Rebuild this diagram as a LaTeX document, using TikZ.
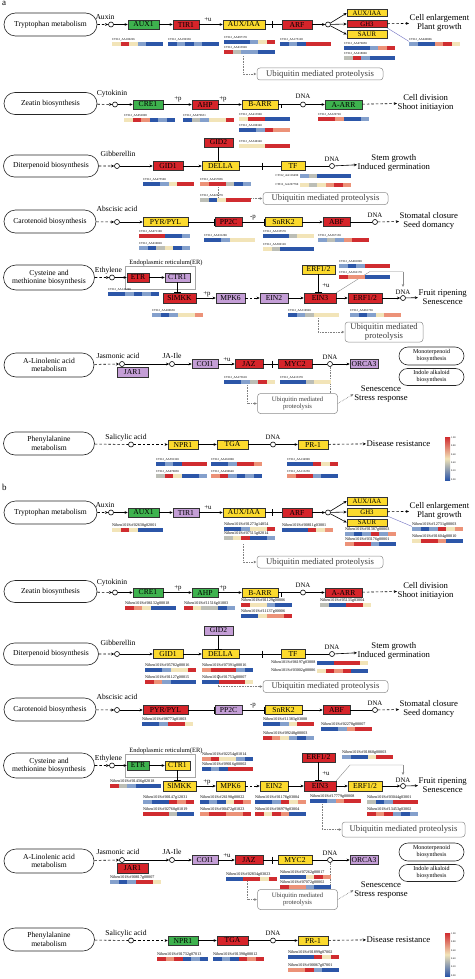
\documentclass[tikz,border=0pt]{standalone}
\usepackage{fontspec}
\setmainfont{Liberation Serif}
\usetikzlibrary{arrows.meta,shapes.misc,calc}
\definecolor{cG}{RGB}{62,178,78}
\definecolor{cR}{RGB}{214,36,42}
\definecolor{cY}{RGB}{252,218,45}
\definecolor{cP}{RGB}{196,158,214}
\definecolor{hmR}{RGB}{208,44,48}
\definecolor{hmO}{RGB}{236,146,120}
\definecolor{hmT}{RGB}{242,228,184}
\definecolor{hmG}{RGB}{188,190,182}
\definecolor{hmL}{RGB}{132,160,204}
\definecolor{hmB}{RGB}{44,86,168}
\tikzset{
  gene/.style={draw=black!80, line width=0.5pt, minimum height=9pt, inner sep=0pt, font=\fontsize{7.6}{8}\selectfont},
  sgene/.style={gene, minimum width=40pt, minimum height=7.5pt, font=\fontsize{6.8}{7}\selectfont},
  pill/.style={rounded rectangle, draw=black!85, line width=0.6pt, inner sep=1pt, align=center, font=\fontsize{7.6}{8.6}\selectfont},
  cir/.style={circle, draw, line width=0.6pt, minimum size=5pt, inner sep=0pt, fill=white},
  arr/.style={-{Stealth[length=3.2pt,width=2.8pt]}, line width=0.6pt},
  darr/.style={arr, dash pattern=on 2.5pt off 2pt},
  dln/.style={line width=0.6pt, dash pattern=on 2.5pt off 2pt},
  inh/.style={-{Bar[width=7pt]}, line width=0.6pt},
  ln/.style={line width=0.6pt},
  lbl/.style={font=\fontsize{7.6}{8}\selectfont, inner sep=0.5pt},
  sml/.style={font=\fontsize{6.8}{7}\selectfont, inner sep=0.5pt},
  outc/.style={font=\fontsize{8.7}{9.6}\selectfont, align=center, inner sep=0.5pt},
  ubq/.style={draw=black!45, line width=0.5pt, rounded corners=3pt, text=black!75, align=center, inner sep=1pt, font=\fontsize{8.7}{9.6}\selectfont},
  wav/.style={black!50, densely dotted, line width=0.6pt},
  warr/.style={wav, -{Latex[open,length=3pt,width=3pt]}},
  thinl/.style={black!45, line width=0.4pt},
  thinb/.style={blue!40!gray!80, line width=0.4pt},
  hid/.style={font=\fontsize{3}{3.2}\selectfont, inner sep=0pt, anchor=south west},
  hidb/.style={font=\fontsize{4.1}{4.3}\selectfont, inner sep=0pt, anchor=south west},
}
% heat strip: name, x, y(top), id, colours
\newcommand\hm[5]{%
  \node[hid] (#1) at (#2,#3-0.6) {#4};
  \foreach \cc [count=\ii from 0] in {#5}{\fill[fill=hm\cc] (#2+\ii*8.5,#3) rectangle ++(8.5,3.6);}
}
\newcommand\hml[5]{%
  \node[hid, anchor=east] (#1) at (#2-1.5,#3+1.8) {#4};
  \foreach \cc [count=\ii from 0] in {#5}{\fill[fill=hm\cc] (#2+\ii*8.5,#3) rectangle ++(8.5,3.6);}
}
\newcommand\RowOne[2]{%
  \node[pill, minimum width=95pt, minimum height=23pt] (p) at (50.5,24.5) {Tryptophan metabolism};
  \node[lbl, anchor=base] (s) at (105,19.5) {Auxin};
  \node[cir] (c1) at (111,24.5) {};
  \node[gene, fill=cG, minimum width=31pt] (g1) at (143.5,24.5) {AUX1};
  \node[gene, fill=#1, minimum width=26pt] (g2) at (186,24.5) {TIR1};
  \node[sml, anchor=base] (m1) at (208,21.5) {+u};
  \node[gene, fill=cY, minimum width=42pt] (g3) at (244,24.5) {AUX/IAA};
  \coordinate (b1) at (273,24.5);
  \node[gene, fill=cR, minimum width=30pt] (g4) at (297,24.5) {ARF};
  \node[cir] (c2) at (328,24.5) {};
  \node[sgene, fill=cY] (g5) at (367,13) {AUX/IAA};
  \node[sgene, fill=#2] (g6) at (367,24) {GH3};
  \node[sgene, fill=cY] (g7) at (367,34.5) {SAUR};
  \node[outc, anchor=west] (o) at (409,23) {Cell enlargement\\Plant growth};
  \node[ubq, minimum width=126pt, minimum height=12pt] (u) at (320,74) {Ubiquitin mediated proteolysis};
  \coordinate (w1) at (243,56);
  \draw[darr] (p) -- (c1); \draw[arr] (c1) -- (g1); \draw[arr] (g1) -- (g2); \draw[arr] (g2) -- (g3);
  \draw[inh] (g3) -- (b1); \draw[ln] (b1) -- (g4); \draw[arr] (g4) -- (c2);
  \draw[arr] (c2) -- (g5.west); \draw[arr] (c2) -- (g6.west); \draw[arr] (c2) -- (g7.west);
  \draw[darr] (g6) -- (o);
  \draw[warr] (w1) |- (u.west);
}
\newcommand\RowTwo[2]{%
  \node[pill, minimum width=95pt, minimum height=22pt] (p) at (50.5,103.5) {Zeatin biosynthesis};
  \node[lbl, anchor=base] (s) at (112,96) {Cytokinin};
  \node[cir] (c1) at (115,104.5) {};
  \node[gene, fill=cG, minimum width=30pt] (g1) at (148,104.5) {CRE1};
  \node[sml, anchor=base] (m1) at (178,101) {+p};
  \node[gene, fill=#1, minimum width=26pt] (g2) at (205,104.5) {AHP};
  \node[sml, anchor=base] (m2) at (223,101) {+p};
  \node[gene, fill=cY, minimum width=36pt] (g3) at (260,104.5) {B-ARR};
  \node[cir] (c2) at (303,104.5) {};
  \node[sml, anchor=base] (d) at (303,99) {DNA};
  \node[gene, fill=#2, minimum width=37pt] (g4) at (343.5,104.5) {A-ARR};
  \node[outc, anchor=west] (o) at (397,103) {Cell division\\Shoot initiayion};
  \coordinate (t1) at (281,104.5); \coordinate (t2) at (281,108.5);
  \draw[darr] (p) -- (c1); \draw[arr] (c1) -- (g1); \draw[arr] (g1) -- (g2); \draw[arr] (g2) -- (g3);
  \draw[ln] (g3) -- (c2); \draw[ln] (t1) -- (t2); \draw[arr] (c2) -- (g4); \draw[darr] (g4) -- (o);
}
\newcommand\RowThree[2]{%
  \node[pill, minimum width=97pt, minimum height=22pt] (p) at (51,166) {Diterpenoid biosynthesis};
  \node[lbl, anchor=base] (s) at (118,157) {Gibberellin};
  \node[cir] (c1) at (117,166) {};
  \node[gene, fill=#2, minimum width=30pt] (g1) at (168,166) {GID1};
  \node[gene, fill=cY, minimum width=37pt] (g2) at (220.5,166) {DELLA};
  \node[gene, fill=#1, minimum width=29pt] (g0) at (218.5,142.5) {GID2};
  \coordinate (b1) at (263,166);
  \node[gene, fill=cY, minimum width=24pt] (g3) at (293,166) {TF};
  \node[cir] (c2) at (332,166) {};
  \node[sml, anchor=base] (d) at (332,161) {DNA};
  \node[outc, anchor=west] (o) at (357,163) {Stem growth\\Induced germination};
  \node[ubq, minimum width=125pt, minimum height=12pt] (u) at (325.5,198.5) {Ubiquitin mediated proteolysis};
  \coordinate (w1) at (218,187);
  \draw[darr] (p) -- (c1); \draw[arr] (c1) -- (g1); \draw[arr] (g1) -- (g2);
  \draw[inh] (g0.south) -- (g0.south |- g2.north);
  \draw[inh] (g2) -- (b1); \draw[ln] (b1) -- (g3); \draw[ln] (g3) -- (c2); \draw[arr] (c2) -- (o);
  \draw[warr] (w1) |- (u.west);
}
\newcommand\RowFour[2]{%
  \node[pill, minimum width=94pt, minimum height=23pt] (p) at (50,221.5) {Carotenoid biosynthesis};
  \node[lbl, anchor=base] (s) at (117,211.5) {Abscisic acid};
  \node[cir] (c1) at (117,222) {};
  \node[gene, fill=#1, minimum width=45pt] (g1) at (165.5,222) {PYR/PYL};
  \node[gene, fill=#2, minimum width=27pt] (g2) at (228.5,222) {PP2C};
  \node[sml, anchor=base] (m1) at (253,218) {-p};
  \node[gene, fill=cY, minimum width=37pt] (g3) at (283.5,222) {SnRK2};
  \node[gene, fill=cR, minimum width=27pt] (g4) at (336.5,222) {ABF};
  \node[cir] (c2) at (375,222) {};
  \node[sml, anchor=base] (d) at (375,217) {DNA};
  \node[outc, anchor=west] (o) at (399,221) {Stomatal closure\\Seed domancy};
  \draw[darr] (p) -- (c1); \draw[arr] (c1) -- (g1); \draw[inh] (g1) -- (g2); \draw[inh] (g2) -- (g3);
  \draw[arr] (g3) -- (g4); \draw[ln] (g4) -- (c2); \draw[darr] (c2) -- (o);
}
\newcommand\RowFive[9]{%
  \node[pill, minimum width=93pt, minimum height=25pt] (p) at (49,277.5) {Cysteine and\\methionine biosynthesis};
  \node[draw=black!35, line width=0.4pt, minimum width=70pt, minimum height=23pt, inner sep=0pt] (er) at (160,277.5) {};
  \node[sml, anchor=base, font=\fontsize{6.5}{7}\selectfont] (erl) at (166,264) {Endoplasmic reticulum(ER)};
  \node[lbl, anchor=base] (s) at (108.5,272) {Ethylene};
  \node[cir] (c1) at (112,277.5) {};
  \node[gene, fill=#1, minimum width=22pt] (g1) at (138,277.5) {ETR};
  \node[gene, fill=#2, minimum width=25pt] (g2) at (177.5,277.5) {CTR1};
  \node[gene, fill=#3, minimum width=33pt, minimum height=10pt] (g3) at (179.5,298) {SlMKK};
  \node[sml, anchor=base] (m1) at (207,295) {+p};
  \node[gene, fill=#4, minimum width=29pt, minimum height=10pt] (g4) at (230.5,298) {MPK6};
  \node[gene, fill=#5, minimum width=28pt, minimum height=10pt] (g5) at (274,298) {EIN2};
  \node[gene, fill=cR, minimum width=32pt, minimum height=10pt] (g6) at (320,298) {EIN3};
  \node[gene, fill=#6, minimum width=33pt] (g7) at (318.5,269.5) {ERF1/2};
  \node[sml, anchor=base] (m2) at (326,287.5) {+u};
  \node[gene, fill=#7, minimum width=34pt, minimum height=10pt] (g8) at (365,298) {ERF1/2};
  \node[cir] (c2) at (403,298) {};
  \node[sml, anchor=base] (d) at (403,294.3) {DNA};
  \node[outc, anchor=west] (o) at (418,297) {Fruit ripening\\Senescence};
  \coordinate (k1) at (#9,#8); \coordinate (k2) at (403,#8); \coordinate (k3) at (403,287);
  \draw[darr] (p) -- (c1); \draw[arr] (c1) -- (g1); \draw[arr] (g1) -- (g2);
  \draw[inh] (g2.south) -- (g2.south |- g3.north);
  \draw[arr] (g3) -- (g4); \draw[darr] (g4) -- (g5); \draw[arr] (g5) -- (g6);
  \draw[inh] (g7.south) -- (g7.south |- g6.north);
  \draw[arr] (g6) -- (g8); \draw[arr] (g8) -- (c2); \draw[arr] (c2) -- (o);
  \draw[thinl] (g6.north east) -- (k1) -- (k2);
  \draw[thinl, -{Stealth[length=3pt,width=2.6pt]}] (k2) -- (k3);
}
\newcommand\RowSix[2]{%
  \node[pill, minimum width=92pt, minimum height=24pt] (p) at (49,365) {A-Linolenic acid\\metabolism};
  \node[lbl, anchor=base] (s) at (118,358.5) {Jasmonic acid};
  \node[cir] (c1) at (122,364) {};
  \node[gene, fill=#1, minimum width=31pt, minimum height=10pt] (g0) at (132.5,372.5) {JAR1};
  \node[lbl, anchor=base] (s2) at (172,358.5) {JA-Ile};
  \node[cir] (c2) at (172,364) {};
  \node[gene, fill=cP, minimum width=26pt] (g1) at (205,364) {COI1};
  \node[sml, anchor=base] (m1) at (227,361) {+u};
  \node[gene, fill=cR, minimum width=28pt] (g2) at (249,364) {JAZ};
  \coordinate (b1) at (273,364);
  \node[gene, fill=#2, minimum width=34pt] (g3) at (295,364) {MYC2};
  \node[cir] (c3) at (330,364) {};
  \node[sml, anchor=base] (d) at (330,359) {DNA};
  \node[gene, fill=cP, minimum width=28pt] (g4) at (364,364) {ORCA3};
  \node[pill, minimum width=67pt, minimum height=18pt, font=\fontsize{6}{7}\selectfont] (q1) at (431.5,356) {Monoterpenoid\\biosynthesis};
  \node[pill, minimum width=67pt, minimum height=17pt, font=\fontsize{6}{7}\selectfont] (q2) at (431.5,377) {Indole alkaloid\\biosynthesis};
  \node[ubq, minimum width=80pt, minimum height=20pt, font=\fontsize{6.6}{7.6}\selectfont] (u) at (297.5,403.5) {Ubiquitin mediated\\proteolysis};
  \node[outc] (o) at (381,394) {Senescence\\Stress response};
  \coordinate (w1) at (247,385);
  \draw[darr] (p) -- (c1); \draw[arr] (c1) -- (c2); \draw[arr] (c2) -- (g1); \draw[arr] (g1) -- (g2);
  \draw[inh] (g2) -- (b1); \draw[ln] (b1) -- (g3); \draw[ln] (g3) -- (c3); \draw[arr] (c3) -- (g4);
  \draw[warr] (w1) |- (u.west);
  \draw[wav] (c3) -- (c3 |- u.north);
  \draw[warr] (u.east) -- (o.west);
}
\newcommand\RowSeven[2]{%
  \node[pill, minimum width=93pt, minimum height=23pt] (p) at (49,443.5) {Phenylalanine\\metabolism};
  \node[lbl, anchor=base] (s) at (126,439.5) {Salicylic acid};
  \node[cir] (c1) at (131,444.5) {};
  \node[gene, fill=#1, minimum width=30pt] (g1) at (183,444.5) {NPR1};
  \node[gene, fill=#2, minimum width=31pt] (g2) at (232.5,444.5) {TGA};
  \node[cir] (c2) at (273,444.5) {};
  \node[sml, anchor=base] (d) at (273,439.5) {DNA};
  \node[gene, fill=cY, minimum width=30pt] (g3) at (313,444.5) {PR-1};
  \node[outc, anchor=west] (o) at (366,443.5) {Disease resistance};
  \shade[top color=hmR, bottom color=hmB, middle color=hmT] (445,437) rectangle (450,480);
  \foreach \cbv [count=\cbi from 0] in {1.00,0.80,0.60,0.40,0.20,0.00}
    \node[font=\fontsize{2.5}{3}\selectfont, anchor=west, inner sep=0pt] (cb\cbi) at (451,437.7+\cbi*8.3) {\cbv};
  \draw[dln] (p) -- (c1); \draw[darr] (c1) -- (g1); \draw[arr] (g1) -- (g2); \draw[ln] (g2) -- (c2);
  \draw[arr] (c2) -- (g3); \draw[darr] (g3) -- (o);
}
\begin{document}
\begin{tikzpicture}[x=1pt, y=-1pt]
\path[use as bounding box, fill=white] (0,0) rectangle (474,979);
\node[font=\fontsize{9}{10}\selectfont, anchor=north west, inner sep=0pt] (la) at (2,1) {a};
\node[font=\fontsize{9}{10}\selectfont, anchor=north west, inner sep=0pt] (lb) at (2,484) {b};
% ================= panel a =================
\begin{scope}[name prefix=a1-]
\RowOne{cR}{cR}
\hm{h1}{112}{42}{CTI12\_AA109226}{T,R,T,L,B,B}
\hm{h2}{168}{42}{CTI12\_AA199330}{B,L,B,L,B,B}
\hm{h3}{224}{40}{CTI12\_AA097170}{B,B,B,L,T,R}
\hm{h4}{224}{50}{CTI12\_AA013920}{R,G,L,L,B,B}
\hm{h5}{280}{42}{CTI12\_AA175128}{B,L,B,R,R,R}
\hm{h6}{344}{46}{CTI12\_AA076050}{B,B,B,L,O,R}
\hm{h7}{344}{56}{CTI12\_AA018060}{G,R,L,B,B,B}
\hm{h8}{409}{42}{CTI12\_AA049066}{L,B,B,O,R,T}
\draw[thinb] (g6.south east) -- (h8.south west);
\end{scope}
\begin{scope}[name prefix=a2-]
\RowTwo{cR}{cG}
\hm{h1}{124}{118}{CTI12\_AA052098}{T,R,O,B,L,B}
\hm{h2}{183}{118}{CTI12\_AA079631}{B,G,L,T,T,R}
\hm{h3}{239}{117}{CTI12\_AA413960}{T,R,R,B,B,B}
\hm{h4}{239}{128}{CTI12\_AA100340}{B,B,L,R,O,O}
\hm{h5}{318}{117}{CTI12\_AA329720}{R,R,O,B,B,L}
\end{scope}
\begin{scope}[name prefix=a3-]
\RowThree{cR}{cR}
\hm{h0}{239}{144}{CTI12\_AA540340}{T,T,T,R,R,R}
\hm{h1}{143}{182}{CTI12\_AA475560}{B,B,L,T,R,R}
\hm{h2}{200}{182}{CTI12\_AA457836}{O,R,R,G,B,L}
\hm{h3}{200}{198}{CTI12\_AA026270}{G,B,T,R,R,R}
\hml{h4}{300}{174}{CTI12\_AA116490}{L,G,B,B,B,B}
\hml{h5}{300}{183}{CTI12\_AA267760}{T,G,T,O,R,O}
\end{scope}
\begin{scope}[name prefix=a4-]
\RowFour{cY}{cR}
\hm{h1}{139}{234}{CTI12\_AA071100}{R,R,R,B,B,L}
\hm{h2}{139}{246}{CTI12\_AA010820}{L,B,G,T,B,L}
\hm{h3}{204}{238}{CTI12\_AA631200}{B,B,L,T,T,T}
\hm{h4}{263}{234}{CTI12\_AA335570}{B,B,B,G,T,T}
\hm{h5}{263}{247}{CTI12\_AA509120}{T,G,B,B,B,B}
\hm{h6}{318}{238}{CTI12\_AA367130}{L,G,L,O,R,R}
\end{scope}
\begin{scope}[name prefix=a5-]
\RowFive{cR}{cP}{cR}{cP}{cP}{cY}{cR}{271.5}{370}
\hm{h1}{108}{292}{CTI12\_AA143290}{B,B,L,B,L,B}
\hm{h2}{339}{264}{CTI12\_AA001890}{L,B,L,R,R,R}
\hm{h3}{339}{275}{CTI12\_AA362170}{R,O,O,B,B,B}
\hm{h4}{152}{313}{CTI12\_AA400650}{L,B,L,T,T,O}
\hm{h5}{288}{313}{CTI12\_AA310920}{B,L,G,T,T,T}
\hm{h6}{350}{313}{CTI12\_AA061730}{L,B,L,T,O,O}
\node[ubq, minimum width=78pt, minimum height=20pt] (u) at (384,332) {Ubiquitin mediated\\proteolysis};
\coordinate (w1) at (318,318);
\draw[warr] (w1) |- (u.west);
\end{scope}
\begin{scope}[name prefix=a6-]
\RowSix{cP}{cR}
\hm{h1}{224}{380}{CTI12\_AA273610}{B,B,L,G,R,T}
\hm{h2}{280}{380}{CTI12\_AA413370}{B,B,B,G,T,T}
\end{scope}
\begin{scope}[name prefix=a7-]
\RowSeven{cY}{cY}
\hm{h1}{156}{462}{CTI12\_AA591320}{B,L,B,R,R,R}
\hm{h2}{156}{474}{CTI12\_AA076830}{G,R,T,B,B,L}
\hm{h3}{211}{462}{CTI12\_AA261860}{B,B,L,R,R,O}
\hm{h4}{211}{474}{CTI12\_AA490640}{O,R,L,B,L,B}
\hm{h5}{287}{462}{CTI12\_AA134990}{B,B,B,R,T,R}
\hm{h6}{287}{474}{CTI12\_AA113250}{O,R,R,L,B,B}
\end{scope}
% ================= panel b =================
\begin{scope}[name prefix=b1-, shift={(0,488)}, hid/.style={hidb}]
\RowOne{cP}{cY}
\hm{h1}{112}{40}{Niben101Scf02638g02001}{T,R,T,B,B,B}
\hm{h3}{224}{39}{Niben101Scf01273g14054}{B,B,L,T,T,R}
\hm{h4}{224}{48}{Niben101Scf07515g02014}{G,T,R,B,B,L}
\hm{h5}{282}{40}{Niben101Scf00811g03001}{B,B,B,R,T,O}
\hm{h6}{345}{44}{Niben101Scf01387g00003}{L,B,L,R,L,O}
\hm{h7}{345}{54}{Niben101Scf03176g00001}{O,R,R,L,B,B}
\hm{h8}{412}{39}{Niben101Scf12731g00003}{L,B,L,R,T,O}
\hm{h9}{412}{51}{Niben101Scf01604g00010}{T,R,R,O,B,B}
\draw[thinb] (g6.south east) -- (h8.south west);
\end{scope}
\begin{scope}[name prefix=b2-, shift={(0,488)}, hid/.style={hidb}]
\RowTwo{cG}{cR}
\hm{h1}{125}{118}{Niben101Scf06132g00018}{R,O,T,B,B,B}
\hm{h2}{184}{118}{Niben101Scf11516g01003}{R,T,G,G,B,L}
\hm{h3}{241}{115}{Niben101Scf01129g00006}{R,T,T,L,B,B}
\hm{h4}{241}{126}{Niben101Scf11137g00006}{B,B,T,O,O,R}
\hm{h5}{320}{115}{Niben101Scf05135g03004}{G,B,B,R,R,T}
\end{scope}
\begin{scope}[name prefix=b3-, shift={(0,488)}, hid/.style={hidb}]
\RowThree{cP}{cY}
\hm{h1}{145}{180}{Niben101Scf05782g00016}{B,B,L,T,T,R}
\hm{h2}{145}{192}{Niben101Scf01127g00015}{R,O,L,B,B,B}
\hm{h3}{202}{180}{Niben101Scf07391g00016}{O,R,R,R,L,B}
\hm{h4}{202}{192}{Niben101Scf01753g00007}{B,B,R,R,R,T}
\hml{h5}{317}{173}{Niben101Scf06197g03008}{B,B,R,R,R,T}
\hml{h6}{317}{181}{Niben101Scf03002g00006}{T,R,O,R,B,B}
\end{scope}
\begin{scope}[name prefix=b4-, shift={(0,488)}, hid/.style={hidb}]
\RowFour{cR}{cP}
\hm{h1}{142}{234}{Niben101Scf08773g01003}{B,B,L,R,R,T}
\hm{h2}{263}{234}{Niben101Scf11383g03008}{B,B,L,T,R,R}
\hm{h3}{263}{248}{Niben101Scf09248g00003}{R,O,T,L,B,L}
\hm{h4}{321}{239}{Niben101Scf02278g00007}{B,B,L,O,R,R}
\end{scope}
\begin{scope}[name prefix=b5-, shift={(0,488)}, hid/.style={hidb}]
\RowFive{cG}{cY}{cY}{cY}{cY}{cR}{cY}{277}{350}
\hm{h1}{110}{296}{Niben101Scf01436g02018}{R,G,L,B,B,B}
\hm{h2}{202}{269}{Niben101Scf02254g01014}{O,R,T,T,L,B}
\hm{h3}{202}{279}{Niben101Scf09016g00002}{B,L,B,R,R,R}
\hm{h4}{342}{267}{Niben101Scf01860g00003}{L,B,B,T,R,R}
\hm{h5}{143}{312}{Niben101Scf00147g12031}{L,B,B,R,O,R}
\hm{h6}{143}{324}{Niben101Scf02760g01019}{R,R,R,G,B,B}
\hm{h7}{200}{312}{Niben101Scf26198g00022}{B,L,B,T,R,O}
\hm{h8}{200}{324}{Niben101Scf00472g01023}{O,R,R,O,O,R}
\hm{h9}{255}{312}{Niben101Scf01178g03004}{B,B,L,R,T,O}
\hm{h10}{255}{324}{Niben101Scf06979g03004}{R,T,R,O,B,B}
\hm{h11}{310}{311}{Niben101Scf17779g00008}{B,B,L,O,R,R}
\hm{h12}{367}{312}{Niben101Scf03044g03001}{G,B,L,R,R,R}
\hm{h13}{367}{324}{Niben101Scf13453g03002}{R,O,R,L,B,L}
\node[ubq, minimum width=123pt, minimum height=15pt] (u) at (403.5,341.5) {Ubiquitin mediated proteolysis};
\coordinate (w1) at (322,316);
\draw[warr] (w1) |- (u.west);
\end{scope}
\begin{scope}[name prefix=b6-, shift={(0,496)}, hid/.style={hidb}]
\RowSix{cR}{cY}
\hm{h0}{110}{384}{Niben101Scf00817g08007}{L,B,L,R,R,T}
\hm{h1}{226}{381}{Niben101Scf02834g03023}{B,B,R,R,T,R}
\hm{h2}{280}{379}{Niben101Scf07262g00017}{B,B,B,T,R,O}
\hm{h3}{280}{389}{Niben101Scf07072g00002}{R,O,O,L,B,B}
\end{scope}
\begin{scope}[name prefix=b7-, shift={(0,496)}, hid/.style={hidb}]
\RowSeven{cG}{cR}
\hm{h1}{157}{461}{Niben101Scf01732g07013}{R,O,R,B,L,B}
\hm{h2}{213}{461}{Niben101Scf01398g00012}{B,L,B,R,O,R}
\hm{h3}{288}{459}{Niben101Scf01899g07002}{B,B,B,R,T,R}
\hm{h4}{288}{472}{Niben101Scf00067g07001}{O,O,R,L,B,B}
\end{scope}
\end{tikzpicture}
\end{document}
